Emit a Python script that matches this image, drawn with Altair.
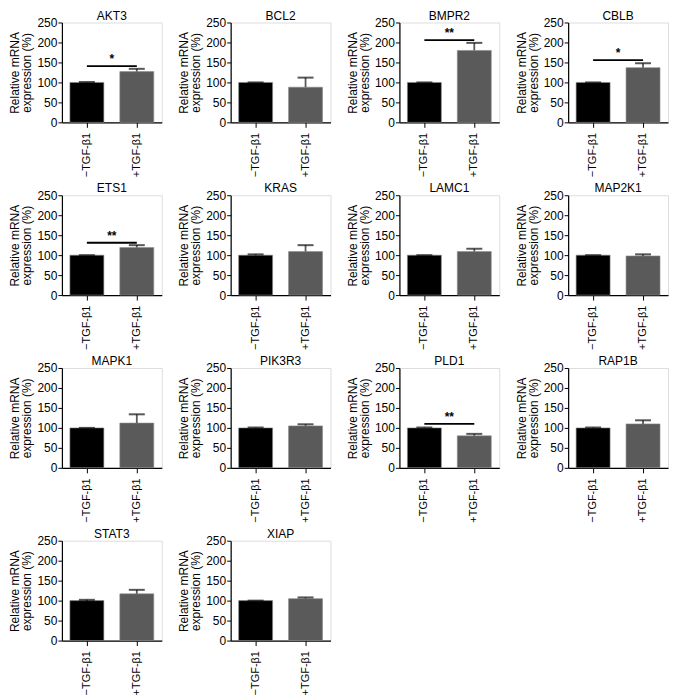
import altair as alt
import pandas as pd

genes = ["AKT3", "BCL2", "BMPR2", "CBLB", "ETS1", "KRAS", "LAMC1", "MAP2K1",
         "MAPK1", "PIK3R3", "PLD1", "RAP1B", "STAT3", "XIAP"]
groups = ["\u2212TGF-\u03b21", "+TGF-\u03b21"]
ctrl_mean = [100, 100, 100, 100, 100, 100, 100, 100, 100, 100, 100, 100, 100, 100]
ctrl_err = [1, 0, 0, 0, 0, 2, 0, 0, 0, 1, 1, 1, 2, 0]
treat_mean = [127, 88, 180, 137, 119, 109, 109, 98, 112, 105, 80, 110, 117, 105]
treat_err = [7, 24, 19, 11, 6, 16, 7, 4, 22, 4, 5, 9, 10, 3]
sig_y = [141, None, 206, 156, 131, None, None, None, None, None, 110, None, None, None]
sig_label = ["*", "", "**", "*", "**", "", "", "", "", "", "**", "", "", ""]

FONT = "Liberation Sans"
BAR_COLORS = ["#000000", "#5a5a5a"]

XAXIS = alt.Axis(title=None, labelAngle=-90, labelAlign="right",
                 labelBaseline="middle", tickSize=5, labelPadding=5,
                 domainColor="#000", tickColor="#000", labelColor="#000",
                 labelFont=FONT, labelFontSize=11, domainWidth=1.2)
YAXIS = alt.Axis(title=["Relative mRNA", "expression (%)"], values=[0, 50, 100, 150, 200, 250],
                 tickSize=4, grid=False, domainColor="#000", tickColor="#000",
                 labelColor="#000", titleColor="#000", labelFont=FONT, titleFont=FONT,
                 labelFontSize=12, titleFontSize=12, titleFontWeight="normal",
                 labelOverlap=False, titleLineHeight=12,
                 labelPadding=1, titlePadding=3, domainWidth=1.2)
XSCALE = alt.Scale(domain=groups, paddingInner=0.32, paddingOuter=0.16)
YSCALE = alt.Scale(domain=[0, 250], nice=False)


def panel(i):
    df = pd.DataFrame({
        "group": groups,
        "mean": [ctrl_mean[i], treat_mean[i]],
        "upper": [ctrl_mean[i] + ctrl_err[i], treat_mean[i] + treat_err[i]],
        "gene": [genes[i], genes[i]],
    })
    xenc = alt.X("group:N", sort=groups, scale=XSCALE, axis=XAXIS)
    color = alt.Color("group:N", scale=alt.Scale(domain=groups, range=BAR_COLORS), legend=None)
    base = alt.Chart(df)
    bars = base.mark_bar(stroke="#8a8a8a", strokeWidth=0.6).encode(
        x=xenc, y=alt.Y("mean:Q", scale=YSCALE, axis=YAXIS), color=color)
    err = base.mark_rule(strokeWidth=1.8).encode(
        x=xenc, y=alt.Y("mean:Q", scale=YSCALE, axis=YAXIS), y2="upper:Q", color=color)
    cap = base.mark_tick(size=16, thickness=2, color="#111").encode(
        x=xenc, y=alt.Y("upper:Q", scale=YSCALE, axis=YAXIS))
    title = base.transform_filter(alt.datum.group == groups[0]).mark_text(
        font=FONT, fontSize=12, color="#000").encode(
        x=alt.value(50), y=alt.value(-7), text="gene:N")
    layers = [bars, err, cap, title]
    if sig_y[i] is not None:
        sdf = pd.DataFrame({"g1": [groups[0]], "g2": [groups[1]], "y": [sig_y[i]],
                            "lab": [sig_label[i]]})
        sbase = alt.Chart(sdf)
        line = sbase.mark_rule(color="#000", strokeWidth=1.8).encode(
            x=alt.X("g1:N", sort=groups, scale=XSCALE, axis=XAXIS), x2="g2:N",
            y=alt.Y("y:Q", scale=YSCALE, axis=YAXIS))
        star = sbase.mark_text(font=FONT, fontSize=12, fontWeight="bold", dy=-7,
                               color="#000").encode(
            x=alt.value(50), y=alt.Y("y:Q", scale=YSCALE, axis=YAXIS), text="lab:N")
        layers += [line, star]
    return alt.layer(*layers).properties(width=100, height=100)


panels = [panel(i) for i in range(len(genes))]
rows = [alt.hconcat(*panels[r:r + 4], spacing=14) for r in range(0, len(panels), 4)]
chart = alt.vconcat(*rows, spacing=3).configure_view(stroke=None).configure(
    padding={"left": 0, "top": 0, "right": 0, "bottom": 0})

chart.save("out.html", embed_options={"renderer": "svg", "actions": False})
